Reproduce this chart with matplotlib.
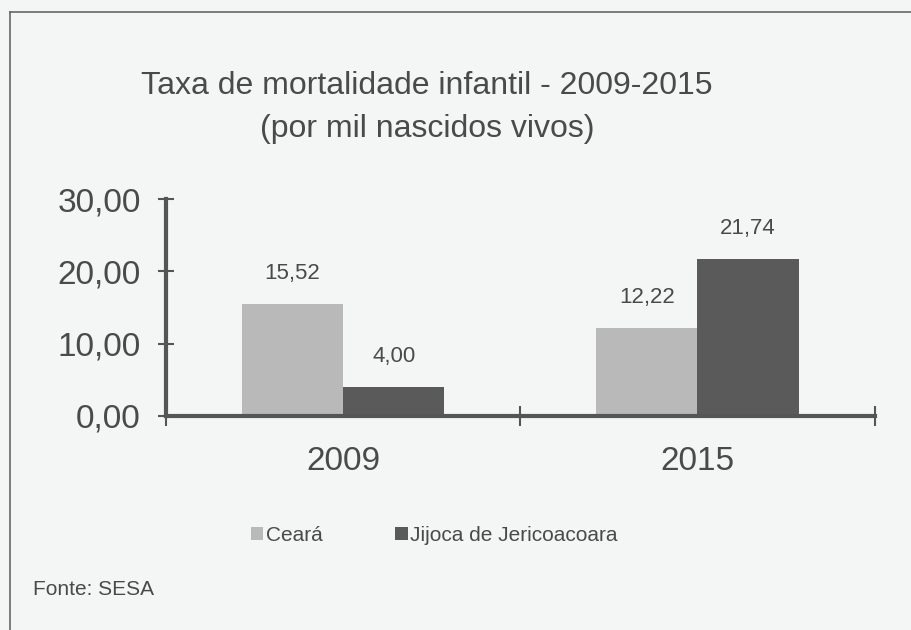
import matplotlib.pyplot as plt
from matplotlib.lines import Line2D
import numpy as np

plt.rcParams['font.family'] = ['Liberation Sans', 'DejaVu Sans']

anos = ["2009", "2015"]
ceara = [15.52, 12.22]
jijoca = [4.00, 21.74]
series_nomes = ["Ceará", "Jijoca de Jericoacoara"]
yticks = [0, 10, 20, 30]

fundo = "#f3f6f5"
texto = "#4a4a4a"
eixo = "#555555"
cor_ceara = "#b9b9b9"
cor_jijoca = "#5a5a5a"

fig = plt.figure(figsize=(9.12, 6.3), dpi=100, facecolor=fundo)
ax = fig.add_axes([0.182, 0.340, 0.777, 0.344])
ax.set_facecolor(fundo)

x = np.arange(len(anos))
w = 0.286
b1 = ax.bar(x - w / 2, ceara, w, color=cor_ceara, label=series_nomes[0])
b2 = ax.bar(x + w / 2, jijoca, w, color=cor_jijoca, label=series_nomes[1])

for bars, vals in [(b1, ceara), (b2, jijoca)]:
    for r, v in zip(bars, vals):
        ax.annotate(f"{v:.2f}".replace(".", ","),
                    (r.get_x() + r.get_width() / 2, v),
                    xytext=(0, 14), textcoords="offset points",
                    ha="center", va="bottom", fontsize=16, color=texto)

ax.set_xlim(-0.5, 1.5)
ax.set_ylim(0, 30)
ax.set_yticks(yticks)
ax.set_yticklabels([f"{t:.2f}".replace(".", ",") for t in yticks],
                   fontsize=24, color=texto)
ax.set_xticks(x)
ax.set_xticklabels(anos, fontsize=24, color=texto)
ax.set_xticks([-0.5, 0.5, 1.5], minor=True)
ax.tick_params(axis="x", which="major", length=0, pad=22)
ax.tick_params(axis="x", which="minor", length=14, width=1.5,
               direction="inout", color=eixo)
ax.tick_params(axis="y", length=12, width=1.5, direction="inout",
               color=eixo, pad=12)

for s in ["top", "right"]:
    ax.spines[s].set_visible(False)
for s in ["left", "bottom"]:
    ax.spines[s].set_color(eixo)
    ax.spines[s].set_linewidth(3)

fig.text(0.468, 0.864, "Taxa de mortalidade infantil - 2009-2015",
         ha="center", va="center", fontsize=23, color=texto)
fig.text(0.468, 0.795, "(por mil nascidos vivos)",
         ha="center", va="center", fontsize=23, color=texto)

fig.legend(handles=[b1, b2], loc="center", bbox_to_anchor=(0.476, 0.150),
           ncol=2, frameon=False, fontsize=15, handlelength=0.6,
           handleheight=0.6, handletextpad=0.1, columnspacing=3.5,
           labelcolor=texto)

fig.text(0.036, 0.065, "Fonte: SESA", ha="left", va="center",
         fontsize=15, color=texto)

# moldura
fig.add_artist(Line2D([0.011, 0.011], [0.0, 0.981], transform=fig.transFigure,
                      color="#666666", lw=1.2))
fig.add_artist(Line2D([0.011, 1.0], [0.981, 0.981], transform=fig.transFigure,
                      color="#666666", lw=1.2))

fig.savefig("out.png", dpi=100, facecolor=fundo)
